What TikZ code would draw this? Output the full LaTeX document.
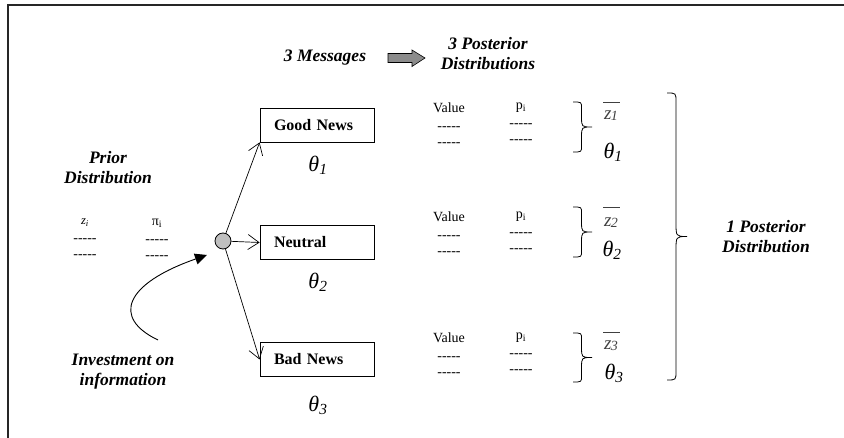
\documentclass[tikz,border=0pt]{standalone}
\usepackage{fontspec}
\setmainfont{Liberation Serif}
\usetikzlibrary{arrows.meta}

% hyphen rows (braces stop the -- ligature)
\newcommand\dashrow{-{}-{}-{}-{}-}
% right-pointing curly brace: left x, top y, bottom y, depth, end radius, middle radius
\newcommand\curlyR[6]{%
  \pgfmathsetmacro\bxc{#1+#4*0.45}%
  \pgfmathsetmacro\bym{(#2+#3)/2}%
  \draw[bracestyle] (#1,#2) .. controls (\bxc,#2) .. (\bxc,#2+#5)
    -- (\bxc,\bym-#6) .. controls (\bxc,\bym) .. (#1+#4,\bym)
    .. controls (\bxc,\bym) .. (\bxc,\bym+#6)
    -- (\bxc,#3-#5) .. controls (\bxc,#3) .. (#1,#3);}

\tikzset{
  heading/.style={font=\fontsize{17.5}{20}\selectfont\bfseries\itshape, align=center, inner sep=0pt},
  newsbox/.style={draw, line width=0.8pt, minimum height=34pt, text width=86pt,
    inner xsep=14pt, inner ysep=0pt, align=left, font=\fontsize{16}{17}\selectfont\bfseries},
  thetalabel/.style={font=\fontsize{22}{22}\selectfont\itshape, inner sep=0pt},
  column/.style={font=\fontsize{14}{16.5}\selectfont, align=center, inner sep=0pt, anchor=north},
  barb/.style={line width=0.7pt, -{Straight Barb[length=11pt,width=15pt,line width=0.7pt]}},
  bracestyle/.style={line width=0.8pt},
  zbar/.style={inner sep=0pt, text=black!75},
}

\begin{document}
\begin{tikzpicture}[x=1pt,y=-1pt]
\useasboundingbox (0,0) rectangle (844,438);

% frame edges
\draw[line width=1.4pt, black!85] (8,438) -- (8,5) -- (844,5);

% headings
\node[heading] (msg) at (325,58) {3 Messages};
\node[heading] (post) at (488,54) {3 Posterior\\Distributions};
\filldraw[fill=black!45, line width=0.6pt]
  (388,53.5) -- (412,53.5) -- (412,50) -- (425,58) -- (412,66.5) -- (412,62.5) -- (388,62.5) -- cycle;

% prior distribution
\node[heading] (prior) at (108,168) {Prior\\Distribution};
\node[column] (zcol) at (85,219) {{\fontsize{12.5}{12}\selectfont\itshape z\textsubscript{i}}\\[1pt]\dashrow\\\dashrow};
\node[column] (picol) at (157,219) {π\textsubscript{i}\\[1pt]\dashrow\\\dashrow};

% investment on information
\node[heading] (invest) at (123,372) {Investment on\\information};
\coordinate (invstart) at (158,340);
\coordinate (invtip) at (207,255);

% chance node
\node[circle, draw, fill=black!25, line width=0.8pt, minimum size=16pt, inner sep=0pt] (chance) at (223,241) {};

\draw[line width=0.9pt, -{Triangle[length=12pt,width=11pt]}]
  (invstart) .. controls (112,318) and (124,284) .. (invtip);

% message boxes
\node[newsbox] (good) at (317,125) {Good News};
\node[newsbox] (neutral) at (317,242.5) {Neutral};
\node[newsbox] (bad) at (317,359.5) {Bad News};

\node[thetalabel] (tg) at (318,165) {θ\textsubscript{1}};
\node[thetalabel] (tn) at (318,282) {θ\textsubscript{2}};
\node[thetalabel] (tb) at (318,405) {θ\textsubscript{3}};

\draw[barb] (chance) -- (good.south west);
\draw[barb] (chance) -- (neutral.west);
\draw[barb] (chance) -- (bad.west);

% posterior tables
\foreach \k/\y in {1/103, 2/212, 3/333} {
  \node[column] (val\k) at (449,\y) {Value\\[1pt]\dashrow\\\dashrow};
  \node[column] (p\k) at (521,\y) {p\textsubscript{i}\\[1pt]\dashrow\\\dashrow};
}

% small braces with means and message labels
\curlyR{573}{102}{152}{19}{6}{10}
\curlyR{573}{207}{257}{19}{6}{10}
\curlyR{573}{333}{382}{19}{6}{10}

\node[zbar] (zb1) at (611,116) {\fontsize{19}{20}\selectfont\itshape z\kern-0.5pt\raisebox{-1pt}{\fontsize{14}{14}\selectfont 1}};
\node[zbar] (zb2) at (611,223) {\fontsize{19}{20}\selectfont\itshape z\kern-0.5pt\raisebox{-1pt}{\fontsize{14}{14}\selectfont 2}};
\node[zbar] (zb3) at (611,346) {\fontsize{19}{20}\selectfont\itshape z\kern-0.5pt\raisebox{-1pt}{\fontsize{14}{14}\selectfont 3}};
\foreach \k/\y in {1/102, 2/207, 3/332} {
  \draw[line width=0.9pt, black!75] (603,\y) -- (620,\y);
}

\node[thetalabel] (t1) at (613,152) {θ\textsubscript{1}};
\node[thetalabel] (t2) at (612,250) {θ\textsubscript{2}};
\node[thetalabel] (t3) at (614,373) {θ\textsubscript{3}};

% large brace and overall posterior label
\curlyR{667}{93}{380}{20}{9}{14}
\node[heading] (onepost) at (766,237) {1 Posterior\\Distribution};
\end{tikzpicture}
\end{document}
